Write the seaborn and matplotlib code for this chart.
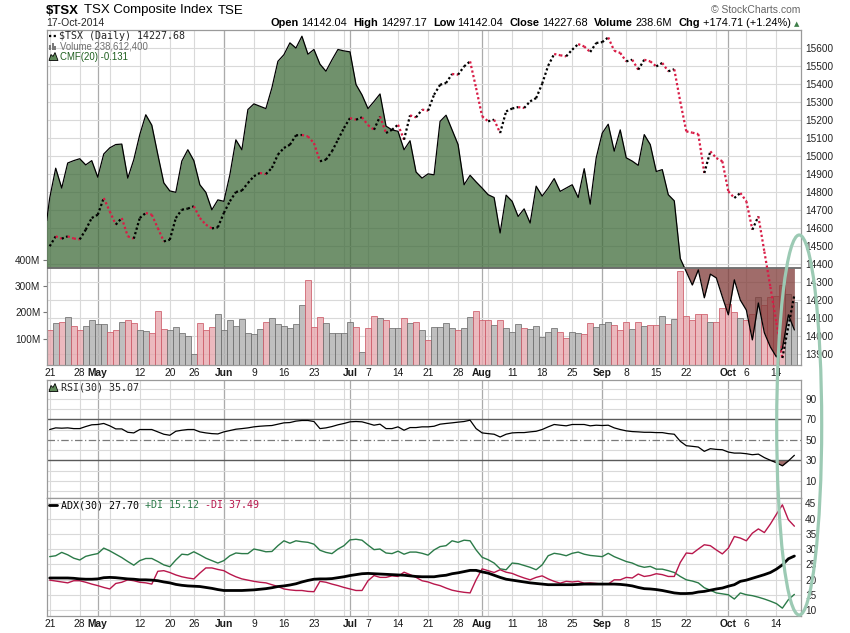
import numpy as np
import pandas as pd
import matplotlib
matplotlib.use("Agg")
import matplotlib.pyplot as plt
import matplotlib.transforms as mtransforms
from matplotlib.patches import Ellipse, Polygon, Rectangle
from matplotlib.lines import Line2D
import seaborn as sns

sns.set_style("white")
plt.rcParams["font.family"] = ["Liberation Sans", "DejaVu Sans"]

W, H, DPI = 850, 633, 100

# ── trading calendar (TSX holidays skipped) ───────────────────────────────────
holidays = ["2014-05-19", "2014-07-01", "2014-08-04", "2014-09-01", "2014-10-13"]
dates = pd.bdate_range("2014-04-21", "2014-10-17")
dates = dates[~dates.isin(pd.to_datetime(holidays))]

# ── series ───────────────────────────────────────────────────────────────────
prev_close = 14520
close = [
    14497, 14552, 14539, 14552, 14540, 14535, 14589, 14654, 14672, 14765,
    14691, 14617, 14654, 14552, 14539, 14654, 14682, 14672, 14598, 14524,
    14533, 14654, 14700, 14706, 14719, 14654, 14617, 14596, 14602, 14682,
    14747, 14798, 14806, 14848, 14886, 14904, 14898, 14932, 15006, 15043,
    15061, 15113, 15115, 15107, 15070, 14969, 14978, 15024, 15089, 15154,
    15209, 15200, 15213, 15170, 15144, 15218, 15126, 15144, 15172, 15089,
    15224, 15213, 15256, 15250, 15339, 15394, 15404, 15454, 15450, 15496,
    15524, 15376, 15219, 15191, 15200, 15126, 15246, 15262, 15270, 15265,
    15302, 15320, 15400, 15500, 15565, 15558, 15552, 15589, 15620, 15607,
    15576, 15626, 15631, 15657, 15583, 15571, 15524, 15533, 15478, 15533,
    15524, 15496, 15515, 15469, 15480, 15300, 15135, 15128, 15120, 14904,
    15024, 14987, 14969, 14802, 14765, 14793, 14747, 14589, 14663, 14467,
    14271, 14072, 13876, 14052.97, 14227.68,
]
volume_m = [
    133, 161, 165, 184, 149, 133, 149, 171, 154, 154,
    127, 133, 165, 169, 158, 133, 129, 123, 205, 137,
    131, 146, 123, 111, 40, 161, 133, 146, 194, 133,
    171, 149, 176, 123, 118, 137, 165, 180, 154, 149,
    139, 154, 228, 323, 146, 184, 158, 123, 123, 120,
    165, 146, 48, 142, 187, 177, 171, 142, 142, 180,
    161, 165, 131, 95, 146, 146, 158, 142, 133, 139,
    184, 205, 169, 171, 152, 171, 139, 127, 154, 142,
    137, 148, 107, 127, 142, 125, 101, 127, 120, 118,
    158, 146, 156, 163, 152, 131, 165, 135, 165, 148,
    152, 150, 185, 154, 173, 357, 187, 171, 192, 192,
    162, 162, 215, 230, 200, 178, 170, 195, 258, 227,
    258, 262, 305, 268, 238.6,
]
cmf = [
    0.148, 0.211, 0.169, 0.222, 0.227, 0.231, 0.218, 0.227, 0.192, 0.241,
    0.254, 0.261, 0.262, 0.190, 0.229, 0.282, 0.324, 0.302, 0.240, 0.180,
    0.163, 0.160, 0.226, 0.250, 0.227, 0.176, 0.160, 0.123, 0.144, 0.141,
    0.197, 0.271, 0.250, 0.335, 0.347, 0.342, 0.337, 0.381, 0.437, 0.451,
    0.476, 0.465, 0.490, 0.452, 0.462, 0.431, 0.416, 0.440, 0.462, 0.459,
    0.457, 0.388, 0.366, 0.337, 0.352, 0.368, 0.300, 0.292, 0.289, 0.250,
    0.269, 0.203, 0.190, 0.199, 0.197, 0.310, 0.323, 0.292, 0.261, 0.176,
    0.196, 0.182, 0.169, 0.155, 0.149, 0.074, 0.154, 0.141, 0.109, 0.125,
    0.095, 0.173, 0.152, 0.169, 0.189, 0.162, 0.169, 0.176, 0.149, 0.210,
    0.135, 0.233, 0.285, 0.304, 0.247, 0.292, 0.233, 0.226, 0.217, 0.282,
    0.261, 0.204, 0.208, 0.155, 0.142, 0.020, -0.008, -0.036, -0.004, -0.063,
    -0.013, -0.021, -0.061, -0.099, -0.025, -0.068, -0.089, -0.152, -0.074, -0.137,
    -0.167, -0.188, -0.170, -0.099, -0.131,
]
cmf_left_edge = 0.10
rsi = [
    60.2, 61.8, 61.5, 61.8, 61.1, 61.1, 63.1, 64.8, 65.1, 66.1,
    63.8, 60.8, 60.8, 57.5, 56.9, 60.2, 60.2, 60.2, 57.9, 55.6,
    54.6, 58.5, 59.5, 60.2, 60.2, 57.9, 56.9, 56.2, 55.9, 57.9,
    59.2, 60.5, 61.1, 61.8, 62.8, 63.4, 63.8, 64.1, 65.4, 66.7,
    67.0, 68.4, 69.0, 69.0, 68.0, 61.1, 61.8, 63.1, 64.8, 66.1,
    67.7, 68.0, 67.7, 66.1, 64.4, 65.4, 61.1, 61.1, 62.8, 59.5,
    62.1, 62.1, 62.8, 62.8, 63.4, 65.4, 66.1, 66.7, 67.4, 68.0,
    69.3, 61.1, 56.9, 56.2, 55.6, 52.9, 55.6, 56.9, 57.2, 57.2,
    57.9, 58.5, 60.2, 62.8, 65.1, 64.4, 63.8, 65.1, 65.1, 65.1,
    63.8, 64.4, 64.1, 64.4, 61.8, 60.2, 58.9, 58.2, 57.9, 57.5,
    57.5, 57.2, 57.2, 56.2, 55.6, 48.7, 44.4, 43.8, 43.1, 38.9,
    41.5, 40.8, 40.5, 38.2, 37.2, 37.2, 36.6, 35.6, 36.2, 32.8,
    30.2, 27.8, 24.8, 29.6, 35.07,
]
adx = [
    20.5, 20.5, 20.5, 20.5, 20.4, 20.2, 20.1, 20.1, 20.2, 20.6,
    20.7, 20.6, 20.4, 20.2, 20.1, 19.9, 19.9, 19.8, 19.6, 19.2,
    18.9, 18.4, 18.1, 17.9, 17.8, 17.7, 17.4, 17.1, 16.7, 16.4,
    16.4, 16.4, 16.4, 16.5, 16.6, 16.8, 17.0, 17.3, 17.7, 17.9,
    18.2, 18.6, 19.2, 19.7, 20.1, 20.2, 20.2, 20.3, 20.6, 20.9,
    21.3, 21.6, 21.9, 22.0, 21.9, 21.8, 21.7, 21.6, 21.5, 21.4,
    21.2, 21.0, 20.9, 20.9, 20.9, 21.2, 21.4, 21.9, 22.2, 22.6,
    23.0, 23.0, 22.5, 22.1, 21.4, 20.7, 20.1, 19.8, 19.5, 19.2,
    18.9, 18.7, 18.5, 18.3, 18.3, 18.3, 18.3, 18.3, 18.4, 18.5,
    18.5, 18.5, 18.5, 18.5, 18.5, 18.4, 18.2, 17.9, 17.4, 17.0,
    16.9, 16.7, 16.4, 16.0, 15.6, 15.4, 15.4, 15.5, 15.9, 16.1,
    16.5, 16.9, 17.2, 17.8, 18.3, 19.4, 19.8, 20.4, 21.0, 21.6,
    22.3, 23.4, 24.8, 26.8, 27.70,
]
plus_di = [
    27.5, 27.8, 28.9, 28.1, 27.0, 26.4, 27.6, 28.1, 28.5, 30.3,
    29.4, 28.3, 27.2, 25.9, 24.7, 26.2, 26.9, 26.9, 25.9, 24.8,
    24.2, 26.4, 28.3, 28.1, 29.1, 28.1, 27.0, 26.2, 25.4, 26.2,
    27.8, 28.7, 28.5, 28.5, 30.0, 29.6, 29.1, 29.2, 31.1, 32.7,
    31.9, 32.7, 32.4, 32.2, 31.6, 29.6, 28.9, 28.5, 30.0, 31.1,
    33.0, 33.2, 32.9, 31.3, 29.8, 30.0, 28.7, 28.5, 29.3, 28.3,
    29.0, 29.0, 28.6, 28.0, 29.7, 30.8, 31.1, 32.7, 32.2, 32.9,
    32.7, 29.7, 27.3, 26.5, 25.4, 23.5, 23.2, 25.4, 25.2, 24.6,
    24.0, 23.2, 24.8, 27.8, 28.6, 28.3, 27.8, 28.6, 29.0, 28.3,
    27.9, 27.7, 27.5, 28.6, 27.5, 26.7, 25.9, 25.4, 24.5, 24.0,
    24.3, 23.4, 23.4, 22.9, 22.3, 21.0, 19.9, 19.5, 18.9, 17.3,
    16.5, 15.6, 15.3, 15.0, 13.6, 15.6, 15.0, 14.7, 14.2, 13.6,
    12.9, 12.1, 10.6, 13.4, 15.12,
]
minus_di = [
    19.8, 19.5, 19.2, 18.9, 19.6, 19.6, 19.1, 18.5, 18.0, 17.4,
    16.9, 18.7, 19.1, 19.9, 19.6, 19.1, 18.9, 18.5, 22.7, 22.9,
    22.3, 21.5, 20.9, 20.5, 20.2, 22.1, 23.8, 23.8, 23.3, 22.9,
    21.8, 20.9, 20.2, 19.8, 19.4, 19.1, 18.9, 18.3, 17.7, 16.9,
    16.6, 16.4, 16.4, 16.1, 16.0, 19.4, 19.1, 18.5, 18.0, 17.4,
    16.9, 16.4, 16.4, 19.6, 21.3, 20.7, 20.7, 21.2, 21.0, 22.4,
    21.6, 20.7, 19.6, 19.2, 18.5, 18.0, 17.2, 16.5, 16.1, 15.8,
    15.6, 19.9, 23.5, 22.9, 22.3, 23.2, 22.4, 22.0, 21.2, 20.5,
    19.9, 20.7, 21.2, 20.2, 19.4, 18.8, 19.4, 19.2, 19.4, 18.8,
    18.9, 18.7, 18.5, 18.5, 19.9, 19.9, 20.7, 20.5, 21.8, 21.0,
    21.3, 21.9, 21.6, 21.0, 21.0, 25.6, 28.7, 28.5, 30.0, 31.4,
    31.1, 29.7, 28.4, 30.3, 34.1, 33.6, 32.7, 35.2, 36.6, 35.4,
    38.2, 41.4, 44.5, 39.6, 37.49,
]

price_ticks = list(range(13900, 15601, 100))
vol_ticks = [100, 200, 300, 400]
rsi_ticks = [10, 30, 50, 70, 90]
adx_ticks = [10, 15, 20, 25, 30, 35, 40, 45]

# colours
GRID, MONTH, FRAME = "#d9d9d9", "#ababab", "#9a9a9a"
UP_DOT, DN_DOT = "#000000", "#d81b45"
GREEN_FILL, RED_FILL = "#406c3b", "#803b38"
DI_PLUS, DI_MINUS = "#2b7a48", "#b8174c"

x = np.arange(len(dates))
close_arr = np.array(close, dtype=float)
up = np.diff(np.r_[prev_close, close_arr]) >= 0

week_start = [i for i in range(len(dates))
              if i == 0 or dates[i].isocalendar()[1] != dates[i - 1].isocalendar()[1]]
month_start = [i for i in range(1, len(dates)) if dates[i].month != dates[i - 1].month]
tick_pos, tick_lab, tick_bold = [], [], []
for i in sorted(set(week_start) | set(month_start)):
    if i in month_start:
        tick_pos.append(i); tick_lab.append(dates[i].strftime("%b")); tick_bold.append(True)
    elif all(abs(i - m) > 2 for m in month_start):
        tick_pos.append(i); tick_lab.append(str(dates[i].day)); tick_bold.append(False)

XLIM = (-0.5, 125.1)


def fx(px):
    return px / W


def fy(py):
    return 1 - py / H


fig = plt.figure(figsize=(W / DPI, H / DPI), dpi=DPI)


def px_axes(left, top, right, bottom):
    return fig.add_axes([fx(left), fy(bottom), (right - left) / W, (bottom - top) / H])


ax_vol = px_axes(46.7, 30, 801, 365)
ax_rsi = px_axes(46.7, 380, 801, 498)
ax_adx = px_axes(46.7, 498, 801, 616)
ax_cmf = ax_vol.twinx()
ax_px = ax_vol.twinx()

ax_px.set_ylim(13837.2, 15698.3)
ax_cmf.set_ylim(-0.2051, 0.5032)
ax_vol.set_ylim(0, 1272)
ax_rsi.set_ylim(-6.6, 108.5)
ax_adx.set_ylim(8.03, 46.74)

# ── grids ────────────────────────────────────────────────────────────────────
for ax in (ax_vol, ax_rsi, ax_adx):
    ax.set_xlim(*XLIM)
    for i in week_start:
        ax.axvline(i, color=GRID, lw=0.8, zorder=0)
    for i in month_start:
        ax.axvline(i, color=MONTH, lw=0.9, zorder=0)

blend = mtransforms.blended_transform_factory(ax_vol.transAxes, ax_px.transData)
for p in price_ticks:
    ax_vol.add_artist(Line2D([0, 1], [p, p], transform=blend, color=GRID, lw=0.8, zorder=0))

# ── main panel: volume, CMF, price ───────────────────────────────────────────
bar_fill = np.where(up, "#b0b0b0", "#e6a8ae")
bar_edge = np.where(up, "#6f6f6f", "#cd5c69")
ax_vol.bar(x, volume_m, width=1.0, color=bar_fill, edgecolor=bar_edge,
           linewidth=0.7, alpha=0.8, zorder=2)

xc = np.r_[XLIM[0], x]
yc = np.r_[cmf_left_edge, cmf]
ax_cmf.fill_between(xc, yc, 0, where=yc >= 0, interpolate=True, color=GREEN_FILL, alpha=0.75, lw=0)
ax_cmf.fill_between(xc, yc, 0, where=yc <= 0, interpolate=True, color=RED_FILL, alpha=0.75, lw=0)
sns.lineplot(x=xc, y=yc, ax=ax_cmf, color="black", lw=0.9)
ax_cmf.axhline(0, color="#6b6b6b", lw=1.3)

for i in range(1, len(x)):
    ax_px.plot(x[i - 1:i + 1], close_arr[i - 1:i + 1], color=UP_DOT if up[i] else DN_DOT,
               lw=1.6, ls=(0, (1, 1.1)), dash_capstyle="butt", zorder=3)

# ── RSI panel ────────────────────────────────────────────────────────────────
for v in range(0, 101, 10):
    if v not in (30, 50, 70):
        ax_rsi.axhline(v, color=GRID, lw=0.8, zorder=0)
ax_rsi.axhline(70, color="#5a5a5a", lw=1.0)
ax_rsi.axhline(30, color="#5a5a5a", lw=1.0)
ax_rsi.axhline(50, color="#7a7a7a", lw=0.9, ls=(0, (6, 2, 1, 2)))
rsi_arr = np.array(rsi)
ax_rsi.fill_between(x, rsi_arr, 30, where=rsi_arr < 30, interpolate=True,
                    color=RED_FILL, alpha=0.75, lw=0)
sns.lineplot(x=x, y=rsi_arr, ax=ax_rsi, color="black", lw=0.9)

# ── ADX panel ────────────────────────────────────────────────────────────────
for v in adx_ticks:
    ax_adx.axhline(v, color=GRID, lw=0.8, zorder=0)
sns.lineplot(x=x, y=plus_di, ax=ax_adx, color=DI_PLUS, lw=1.0)
sns.lineplot(x=x, y=minus_di, ax=ax_adx, color=DI_MINUS, lw=1.0)
sns.lineplot(x=x, y=adx, ax=ax_adx, color="black", lw=2.0)

# ── axes cosmetics ───────────────────────────────────────────────────────────
for ax in (ax_vol, ax_rsi, ax_adx, ax_cmf, ax_px):
    ax.set_xlabel("")
    ax.set_ylabel("")
for ax in (ax_vol, ax_rsi, ax_adx):
    for s in ax.spines.values():
        s.set_color(FRAME)
        s.set_linewidth(0.9)
for ax in (ax_cmf, ax_px):
    for s in ax.spines.values():
        s.set_visible(False)

ax_cmf.set_yticks([])
ax_px.set_yticks(price_ticks)
ax_px.set_yticklabels([str(p) for p in price_ticks])
ax_px.tick_params(axis="y", right=True, length=0, pad=3, labelsize=7.2, labelcolor="#222222")

ax_vol.set_yticks(vol_ticks)
ax_vol.set_yticklabels([f"{v}M" for v in vol_ticks])
ax_vol.tick_params(axis="y", left=True, length=3, width=0.8, color="#777777", pad=1.5,
                   labelsize=7.2, labelcolor="#222222")

for ax, ticks in ((ax_rsi, rsi_ticks), (ax_adx, adx_ticks)):
    ax.yaxis.tick_right()
    ax.set_yticks(ticks)
    ax.set_yticklabels([str(t) for t in ticks])
    ax.tick_params(axis="y", right=True, left=False, length=0, pad=3, labelsize=7.2,
                   labelcolor="#222222")

for ax, show in ((ax_vol, True), (ax_rsi, False), (ax_adx, True)):
    ax.set_xticks(tick_pos)
    ax.set_xticklabels(tick_lab)
    ax.tick_params(axis="x", bottom=True, length=0, pad=2.5, labelsize=7.4,
                   labelbottom=show, labelcolor="#1a1a1a")
    for lab, b in zip(ax.get_xticklabels(), tick_bold):
        lab.set_fontweight("bold" if b else "normal")

# ── header and legends ───────────────────────────────────────────────────────
renderer = fig.canvas.get_renderer()


def text_run(x0, y, parts, size, align="left", family=None):
    arts = []
    for s, weight, color, gap in parts:
        kw = {"family": family} if family else {}
        t = fig.text(0, fy(y), s, fontsize=size, fontweight=weight, color=color,
                     va="center", ha="left", **kw)
        arts.append((t, t.get_window_extent(renderer).width, gap))
    total = sum(w + g for _, w, g in arts) - arts[-1][2]
    xx = x0 - total if align == "right" else x0
    for t, w, g in arts:
        t.set_x(fx(xx))
        xx += w + g
    return xx


text_run(45.5, 10.5, [("$TSX", "bold", "black", 5),
                      ("TSX Composite Index", "normal", "black", 6),
                      ("TSE", "normal", "black", 0)], 9.5)
fig.text(fx(46), fy(23), "17-Oct-2014", fontsize=7.5, va="center", ha="left")
text_run(791, 23.5, [("Open", "bold", "black", 3), ("14142.04", "normal", "black", 6),
                     ("High", "bold", "black", 3), ("14297.17", "normal", "black", 6),
                     ("Low", "bold", "black", 3), ("14142.04", "normal", "black", 6),
                     ("Close", "bold", "black", 3), ("14227.68", "normal", "black", 6),
                     ("Volume", "bold", "black", 3), ("238.6M", "normal", "black", 6),
                     ("Chg", "bold", "black", 3), ("+174.71 (+1.24%)", "normal", "black", 0)],
         7.9, align="right")
fig.text(fx(797), fy(24), "\u25b2", fontsize=5, color="#3f7f4a", va="center", ha="center",
         family="DejaVu Sans")
fig.text(fx(800), fy(10.3), "\u00a9 StockCharts.com", fontsize=7.5, color="#666666",
         va="center", ha="right")

# main legend
fig.add_artist(Line2D([fx(49), fx(56.5)], [fy(36), fy(36)], transform=fig.transFigure,
                      color="black", lw=1.6, ls=(0, (1, 1.1)), dash_capstyle="butt"))
fig.text(fx(59), fy(36), "$TSX (Daily) 14227.68", fontsize=7.2, family="DejaVu Sans Mono",
         va="center", ha="left")
for bx, bh in ((49, 5), (51.7, 7), (54.4, 4)):
    fig.add_artist(Rectangle((fx(bx), fy(50)), 2 / W, bh / H, transform=fig.transFigure,
                             facecolor="#7a7a7a", edgecolor="none"))
fig.text(fx(60), fy(46.5), "Volume 238,612,400", fontsize=6.9, color="#707070",
         va="center", ha="left")


def mountain(x0, ybase):
    pts = [(x0, ybase), (x0 + 2, ybase - 6), (x0 + 4, ybase - 4), (x0 + 6, ybase - 8),
           (x0 + 9, ybase)]
    fig.add_artist(Polygon([(fx(a), fy(b)) for a, b in pts], closed=True,
                           transform=fig.transFigure, facecolor="#5f8a5a",
                           edgecolor="black", lw=0.6))


mountain(49, 60.5)
fig.text(fx(60), fy(56.7), "CMF(20) -0.131", fontsize=6.9, color="#1d5e1d",
         va="center", ha="left")

mountain(49, 391.5)
fig.text(fx(61), fy(387), "RSI(30) 35.07", fontsize=7.2, family="DejaVu Sans Mono",
         va="center", ha="left")

fig.add_artist(Line2D([fx(49), fx(57)], [fy(505), fy(505)], transform=fig.transFigure,
                      color="black", lw=2.0))
text_run(61, 505, [("ADX(30) 27.70", "normal", "black", 6),
                   ("+DI 15.12", "normal", DI_PLUS, 6),
                   ("-DI 37.49", "normal", DI_MINUS, 0)], 7.2, family="DejaVu Sans Mono")

# hand-drawn highlight ellipse
fig.add_artist(Ellipse((fx(799.2), fy(425)), 45 / W, 380 / H, transform=fig.transFigure,
                       fill=False, edgecolor="#9ccab4", lw=2.3, zorder=10))

fig.savefig("out.png", dpi=DPI)
